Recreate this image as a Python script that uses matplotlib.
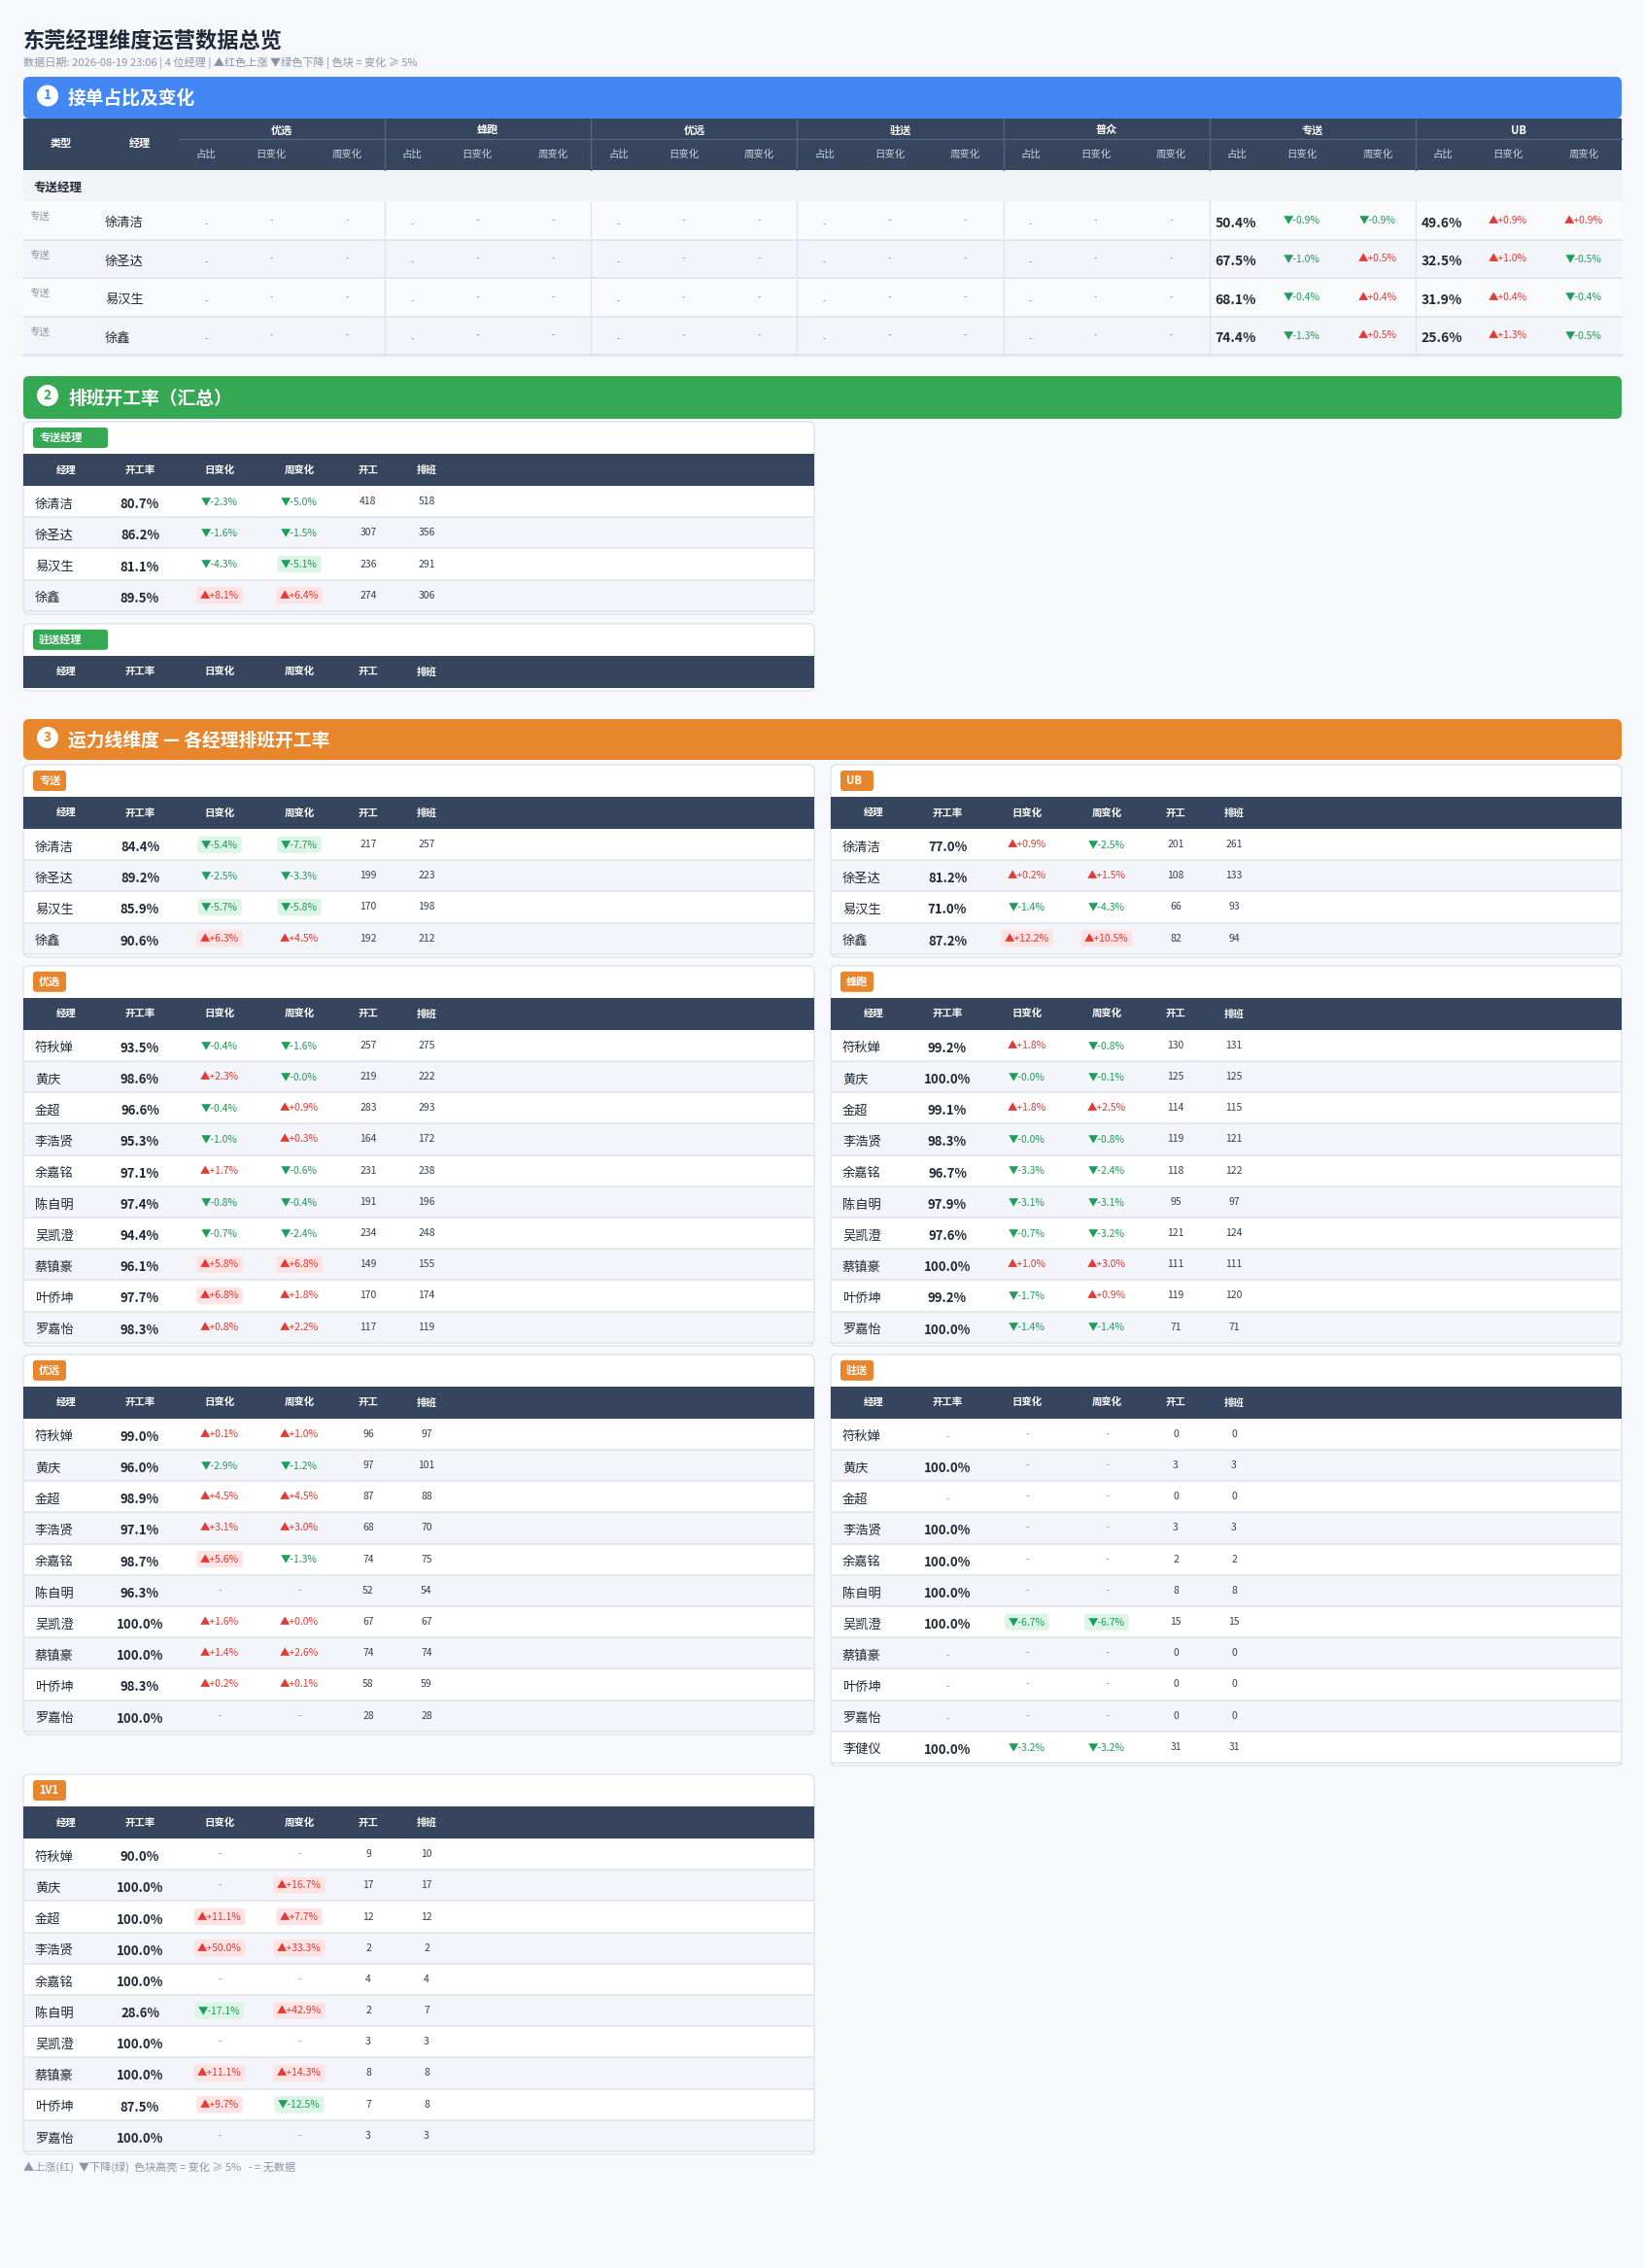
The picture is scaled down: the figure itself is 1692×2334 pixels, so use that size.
import numpy as np
import matplotlib
matplotlib.use("Agg")
import matplotlib.pyplot as plt
from matplotlib.patches import FancyBboxPatch, Rectangle, Circle

plt.rcParams['font.family'] = ['Noto Sans CJK SC', 'DejaVu Sans']

# ---------------- DATA ----------------
title = "东莞经理维度运营数据总览"
subtitle = "数据日期: 2026-08-19 23:06 | 4 位经理 | ▲红色上涨 ▼绿色下降 | 色块 = 变化 ≥ 5%"
footer = "▲上涨(红)  ▼下降(绿)  色块高亮 = 变化 ≥ 5%   - = 无数据"

s1_groups = ['优选', '蜂跑', '优远', '驻送', '普众', '专送', 'UB']
s1_subcols = ['占比', '日变化', '周变化']
zs_managers = ['徐清洁', '徐圣达', '易汉生', '徐鑫']
zs_share = [50.4, 67.5, 68.1, 74.4]
zs_share_day = [-0.9, -1.0, -0.4, -1.3]
zs_share_week = [-0.9, 0.5, 0.4, 0.5]
ub_share = [49.6, 32.5, 31.9, 25.6]
ub_share_day = [0.9, 1.0, 0.4, 1.3]
ub_share_week = [0.9, -0.5, -0.4, -0.5]

table_cols = ['经理', '开工率', '日变化', '周变化', '开工', '排班']

s2_zs_rate = [80.7, 86.2, 81.1, 89.5]
s2_zs_day = [-2.3, -1.6, -4.3, 8.1]
s2_zs_week = [-5.0, -1.5, -5.1, 6.4]
s2_zs_work = [418, 307, 236, 274]
s2_zs_sched = [518, 356, 291, 306]

ten_managers = ['符秋婵', '黄庆', '金超', '李浩贤', '余嘉铭', '陈自明', '吴凯澄', '蔡镇豪', '叶侨坤', '罗嘉怡']
zhusong_managers = ten_managers + ['李健仪']

zs_rate = [84.4, 89.2, 85.9, 90.6]
zs_day = [-5.4, -2.5, -5.7, 6.3]
zs_week = [-7.7, -3.3, -5.8, 4.5]
zs_work = [217, 199, 170, 192]
zs_sched = [257, 223, 198, 212]

ub_rate = [77.0, 81.2, 71.0, 87.2]
ub_day = [0.9, 0.2, -1.4, 12.2]
ub_week = [-2.5, 1.5, -4.3, 10.5]
ub_work = [201, 108, 66, 82]
ub_sched = [261, 133, 93, 94]

yx_rate = [93.5, 98.6, 96.6, 95.3, 97.1, 97.4, 94.4, 96.1, 97.7, 98.3]
yx_day = [-0.4, 2.3, -0.4, -1.0, 1.7, -0.8, -0.7, 5.8, 6.8, 0.8]
yx_week = [-1.6, -0.0, 0.9, 0.3, -0.6, -0.4, -2.4, 6.8, 1.8, 2.2]
yx_work = [257, 219, 283, 164, 231, 191, 234, 149, 170, 117]
yx_sched = [275, 222, 293, 172, 238, 196, 248, 155, 174, 119]

fp_rate = [99.2, 100.0, 99.1, 98.3, 96.7, 97.9, 97.6, 100.0, 99.2, 100.0]
fp_day = [1.8, -0.0, 1.8, -0.0, -3.3, -3.1, -0.7, 1.0, -1.7, -1.4]
fp_week = [-0.8, -0.1, 2.5, -0.8, -2.4, -3.1, -3.2, 3.0, 0.9, -1.4]
fp_work = [130, 125, 114, 119, 118, 95, 121, 111, 119, 71]
fp_sched = [131, 125, 115, 121, 122, 97, 124, 111, 120, 71]

yy_rate = [99.0, 96.0, 98.9, 97.1, 98.7, 96.3, 100.0, 100.0, 98.3, 100.0]
yy_day = [0.1, -2.9, 4.5, 3.1, 5.6, None, 1.6, 1.4, 0.2, None]
yy_week = [1.0, -1.2, 4.5, 3.0, -1.3, None, 0.0, 2.6, 0.1, None]
yy_work = [96, 97, 87, 68, 74, 52, 67, 74, 58, 28]
yy_sched = [97, 101, 88, 70, 75, 54, 67, 74, 59, 28]

zhs_rate = [None, 100.0, None, 100.0, 100.0, 100.0, 100.0, None, None, None, 100.0]
zhs_day = [None, None, None, None, None, None, -6.7, None, None, None, -3.2]
zhs_week = [None, None, None, None, None, None, -6.7, None, None, None, -3.2]
zhs_work = [0, 3, 0, 3, 2, 8, 15, 0, 0, 0, 31]
zhs_sched = [0, 3, 0, 3, 2, 8, 15, 0, 0, 0, 31]

v1_rate = [90.0, 100.0, 100.0, 100.0, 100.0, 28.6, 100.0, 100.0, 87.5, 100.0]
v1_day = [None, None, 11.1, 50.0, None, -17.1, None, 11.1, 9.7, None]
v1_week = [None, 16.7, 7.7, 33.3, None, 42.9, None, 14.3, -12.5, None]
v1_work = [9, 17, 12, 2, 4, 2, 3, 8, 7, 3]
v1_sched = [10, 17, 12, 2, 4, 7, 3, 8, 8, 3]

# ---------------- STYLE ----------------
BG = '#f6f8fc'
DARK = '#36455e'
TXT = '#1f2937'
GRAY = '#8a94a6'
RED = '#e53935'
GREEN = '#1e9e5a'
RED_BG = '#fde3e3'
GREEN_BG = '#dcf5e7'
ALT = '#f3f5fa'
LINE = '#e0e4ec'
BLUE = '#4387f5'
GRN = '#34a853'
ORG = '#e8862e'

W, H = 1692, 2334
fig = plt.figure(figsize=(W / 100, H / 100), dpi=100, facecolor=BG)
ax = fig.add_axes([0, 0, 1, 1])
ax.set_xlim(0, W)
ax.set_ylim(H, 0)
ax.axis('off')

LEFT, RIGHT = 24, 1669


def rrect(x, y, w, h, fc, ec='none', r=6, lw=1, z=1):
    ax.add_patch(FancyBboxPatch((x, y), w, h, boxstyle=f"round,pad=0,rounding_size={r}",
                                fc=fc, ec=ec, lw=lw, zorder=z, mutation_aspect=1))


def change(x, y, v, size=7.5, ha='center'):
    if v is None:
        ax.text(x, y, '-', color=GRAY, fontsize=7, ha=ha, va='center', zorder=5)
        return
    neg = np.signbit(v)
    col = GREEN if neg else RED
    tri = '▼' if neg else '▲'
    s = f"{tri}{v:+.1f}%"
    bbox = None
    if abs(v) > 5.0:
        bbox = dict(boxstyle='round,pad=0.35,rounding_size=0.3', fc=GREEN_BG if neg else RED_BG, ec='none')
    ax.text(x, y, s, color=col, fontsize=size, ha=ha, va='center', zorder=5, bbox=bbox)


def section_bar(y0, y1, color, num, text):
    rrect(LEFT, y0, RIGHT - LEFT, y1 - y0, color, r=6, z=2)
    cy = (y0 + y1) / 2
    ax.add_patch(Circle((49, cy - 2), 11, fc='white', ec='none', zorder=3))
    ax.text(49, cy - 2, str(num), color=color, fontsize=10, fontweight='bold', ha='center', va='center', zorder=4)
    ax.text(70, cy + 1, text, color='white', fontsize=13.5, fontweight='bold', ha='left', va='center', zorder=4)


# ---------------- HEADER ----------------
ax.text(LEFT, 42, title, fontsize=16, fontweight='bold', color=TXT, ha='left', va='center')
ax.text(LEFT, 65, subtitle, fontsize=8, color=GRAY, ha='left', va='center')

# ---------------- SECTION 1 ----------------
section_bar(79, 122, BLUE, 1, '接单占比及变化')
hy0, hy1 = 122, 175
ax.add_patch(Rectangle((LEFT, hy0), RIGHT - LEFT, hy1 - hy0, fc=DARK, ec='none', zorder=2))
gx0 = 184
gw = (RIGHT - gx0) / len(s1_groups)
ax.plot([gx0, RIGHT], [143, 143], color='#56657e', lw=1, zorder=3)
ax.text(63, 148, '类型', color='white', fontsize=8, fontweight='bold', ha='center', va='center', zorder=4)
ax.text(144, 148, '经理', color='white', fontsize=8, fontweight='bold', ha='center', va='center', zorder=4)
sub_off = [28, 95, 173]
for gi, g in enumerate(s1_groups):
    gl = gx0 + gi * gw
    ax.text(gl + gw / 2, 134, g, color='white', fontsize=8, fontweight='bold', ha='center', va='center', zorder=4)
    if gi > 0:
        ax.plot([gl, gl], [hy0, hy1], color='#56657e', lw=1, zorder=3)
    for si, sc in enumerate(s1_subcols):
        ax.text(gl + sub_off[si], 159, sc, color='#c9d1de', fontsize=7.5, ha='center', va='center', zorder=4)

ax.add_patch(Rectangle((LEFT, hy1), RIGHT - LEFT, 207 - hy1, fc='#f1f3f7', ec='none', zorder=1))
ax.text(34, 193, '专送经理', color=TXT, fontsize=9, fontweight='bold', ha='left', va='center', zorder=4)
rh1 = 39.5
shares = {5: (zs_share, zs_share_day, zs_share_week), 6: (ub_share, ub_share_day, ub_share_week)}
for ri, m in enumerate(zs_managers):
    ry = 207 + ri * rh1
    ax.add_patch(Rectangle((LEFT, ry), RIGHT - LEFT, rh1, fc='#fafbfd' if ri % 2 == 0 else ALT, ec='none', zorder=1))
    ax.plot([LEFT, RIGHT], [ry + rh1, ry + rh1], color=LINE, lw=1.2 if ri < 3 else 2, zorder=3)
    cy = ry + rh1 / 2
    ax.text(30, cy - 3, '专送', color=GRAY, fontsize=7.5, ha='left', va='center', zorder=4)
    ax.text(108, cy + 3, m, color=TXT, fontsize=9.5, ha='left', va='center', zorder=4)
    for gi in range(len(s1_groups)):
        gl = gx0 + gi * gw
        if gi > 0:
            ax.plot([gl, gl], [ry, ry + rh1], color=LINE, lw=1, zorder=3)
        if gi in shares:
            sh, dd, ww = shares[gi]
            ax.text(gl + 6, cy + 3, f"{sh[ri]:.1f}%", color=TXT, fontsize=10, fontweight='bold', ha='left', va='center', zorder=4)
            change(gl + sub_off[1], cy, dd[ri])
            change(gl + sub_off[2], cy, ww[ri])
        else:
            ax.text(gl + sub_off[0], cy + 4, '-', color=GRAY, fontsize=7, ha='center', va='center', zorder=4)
            ax.text(gl + sub_off[1], cy, '-', color=GRAY, fontsize=7, ha='center', va='center', zorder=4)
            ax.text(gl + sub_off[2], cy, '-', color=GRAY, fontsize=7, ha='center', va='center', zorder=4)

# ---------------- CARD TABLE ----------------
CW = 814
col_off = [44, 120, 202, 284, 355, 415]
RH = 32.2


def card(L, T, badge, bcolor, names, rate, day, week, work, sched, bw=None):
    n = len(names)
    bottom = T + 66 + n * RH + 3
    rrect(L, T, CW, bottom - T, 'white', ec='#dde2ec', r=6, lw=1, z=1)
    if bw is None:
        bw = 18 + 12 * len(badge) if not badge.isascii() else 18 + 8 * len(badge)
    rrect(L + 10, T + 6, bw, 21, bcolor, r=3, z=2)
    ax.text(L + 16, T + 16.5, badge, color='white', fontsize=8, fontweight='bold', ha='left', va='center', zorder=3)
    ax.add_patch(Rectangle((L, T + 33), CW, 33, fc=DARK, ec='none', zorder=2))
    for ci, c in enumerate(table_cols):
        ax.text(L + col_off[ci], T + 49.5, c, color='white', fontsize=7.5, fontweight='bold', ha='center', va='center', zorder=3)
    for ri in range(n):
        ry = T + 66 + ri * RH
        ax.add_patch(Rectangle((L + 1, ry), CW - 2, RH, fc='white' if ri % 2 == 0 else ALT, ec='none', zorder=2))
        ax.plot([L + 1, L + CW - 1], [ry + RH, ry + RH], color=LINE, lw=1.2, zorder=3)
        cy = ry + RH / 2
        ax.text(L + 12, cy + 3, names[ri], color=TXT, fontsize=9.5, ha='left', va='center', zorder=4)
        if rate[ri] is None:
            ax.text(L + col_off[1], cy + 3, '-', color=GRAY, fontsize=7, ha='center', va='center', zorder=4)
        else:
            ax.text(L + col_off[1], cy + 3, f"{rate[ri]:.1f}%", color=TXT, fontsize=9.5, fontweight='bold',
                    ha='center', va='center', zorder=4)
        change(L + col_off[2], cy, day[ri])
        change(L + col_off[3], cy, week[ri])
        ax.text(L + col_off[4], cy, str(work[ri]), color='#374151', fontsize=7.5, ha='center', va='center', zorder=4)
        ax.text(L + col_off[5], cy, str(sched[ri]), color='#374151', fontsize=7.5, ha='center', va='center', zorder=4)
    return bottom


# ---------------- SECTION 2 ----------------
section_bar(387, 431, GRN, 2, '排班开工率（汇总）')
b = card(LEFT, 434, '专送经理', GRN, zs_managers, s2_zs_rate, s2_zs_day, s2_zs_week, s2_zs_work, s2_zs_sched, bw=77)
card(LEFT, b + 10, '驻送经理', GRN, [], [], [], [], [], [], bw=77)

# ---------------- SECTION 3 ----------------
section_bar(740, 782, ORG, 3, '运力线维度 — 各经理排班开工率')
LR = 855
pairs = [
    (('专送', zs_managers, zs_rate, zs_day, zs_week, zs_work, zs_sched),
     ('UB', zs_managers, ub_rate, ub_day, ub_week, ub_work, ub_sched)),
    (('优选', ten_managers, yx_rate, yx_day, yx_week, yx_work, yx_sched),
     ('蜂跑', ten_managers, fp_rate, fp_day, fp_week, fp_work, fp_sched)),
    (('优远', ten_managers, yy_rate, yy_day, yy_week, yy_work, yy_sched),
     ('驻送', zhusong_managers, zhs_rate, zhs_day, zhs_week, zhs_work, zhs_sched)),
    (('1V1', ten_managers, v1_rate, v1_day, v1_week, v1_work, v1_sched), None),
]
T = 787
for left_c, right_c in pairs:
    bottoms = []
    for L, c in ((LEFT, left_c), (LR, right_c)):
        if c is None:
            continue
        bw = 34 if len(c[0]) <= 2 and not c[0].isascii() else 34
        bottoms.append(card(L, T, c[0], ORG, *c[1:], bw=bw))
    T = max(bottoms) + 9

ax.text(LEFT, 2230, footer, color=GRAY, fontsize=8, ha='left', va='center')

fig.savefig('out.png', dpi=100, facecolor=BG)
